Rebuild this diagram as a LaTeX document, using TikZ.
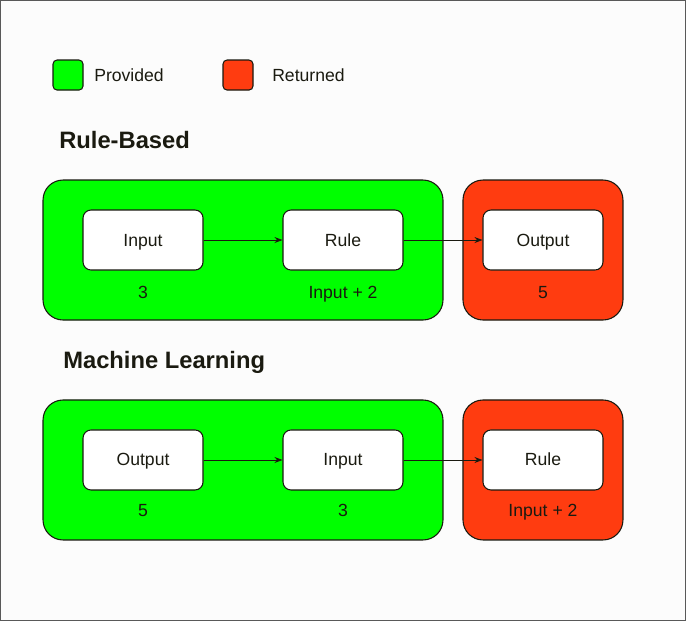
\documentclass[tikz,border=0pt]{standalone}
\usepackage{fontspec}
\setmainfont{Liberation Sans}
\usetikzlibrary{arrows.meta}
\definecolor{bgc}{HTML}{FCFCFC}
\definecolor{provc}{HTML}{00FF00}
\definecolor{retc}{HTML}{FF3C10}
\definecolor{inkc}{HTML}{1A1A10}
\begin{document}
\begin{tikzpicture}[x=0.75pt,y=-0.75pt,
  outerbox/.style={draw=inkc,line width=0.8pt,rounded corners=15pt},
  innerbox/.style={draw=inkc,fill=white,line width=0.8pt,rounded corners=6pt,minimum width=90pt,minimum height=45pt,inner sep=0pt,font=\fontsize{13.2}{16}\selectfont,text=inkc,text height=11.5pt,text depth=2.5pt},
  lbl/.style={font=\fontsize{13.2}{16}\selectfont,text=inkc,inner sep=0pt,text height=11.5pt,text depth=2.5pt},
  title/.style={font=\bfseries\fontsize{17.8}{21}\selectfont,text=inkc,inner sep=0pt,anchor=west,text height=16pt,text depth=3.5pt},
  legsq/.style={draw=inkc,line width=0.8pt,rounded corners=3pt,minimum width=22.5pt,minimum height=22.5pt,inner sep=0pt},
  conn/.style={-{Stealth[length=6pt,width=4.5pt]},line width=0.6pt,draw=inkc}]
% background and frame
\fill[bgc] (0,0) rectangle (686,621);
\draw[gray!70!black,line width=0.8pt] (0.5,0.5) rectangle (685.5,620.5);
\useasboundingbox (0,0) rectangle (686,621);
% legend
\node[legsq,fill=provc] (lp) at (68,75) {};
\node[lbl,anchor=west] (lpt) at (94,75) {Provided};
\node[legsq,fill=retc] (lr) at (238,75) {};
\node[lbl,anchor=west] (lrt) at (272,75) {Returned};
% Rule-Based
\node[title] (t1) at (59,140.5) {Rule-Based};
\draw[outerbox,fill=provc] (43,180) rectangle (443,320);
\draw[outerbox,fill=retc] (463,180) rectangle (623,320);
\node[innerbox] (a1) at (143,240) {Input};
\node[innerbox] (b1) at (343,240) {Rule};
\node[innerbox] (c1) at (543,240) {Output};
\node[lbl] (la1) at (143,292) {3};
\node[lbl] (lb1) at (343,292) {Input + 2};
\node[lbl] (lc1) at (543,292) {5};
\draw[conn] (a1) -- (b1);
\draw[conn] (b1) -- (c1);
% Machine Learning
\node[title] (t2) at (63,360.5) {Machine Learning};
\draw[outerbox,fill=provc] (43,400) rectangle (443,540);
\draw[outerbox,fill=retc] (463,400) rectangle (623,540);
\node[innerbox] (a2) at (143,460) {Output};
\node[innerbox] (b2) at (343,460) {Input};
\node[innerbox] (c2) at (543,460) {Rule};
\node[lbl] (la2) at (143,511) {5};
\node[lbl] (lb2) at (343,511) {3};
\node[lbl] (lc2) at (543,511) {Input + 2};
\draw[conn] (a2) -- (b2);
\draw[conn] (b2) -- (c2);
\end{tikzpicture}
\end{document}
